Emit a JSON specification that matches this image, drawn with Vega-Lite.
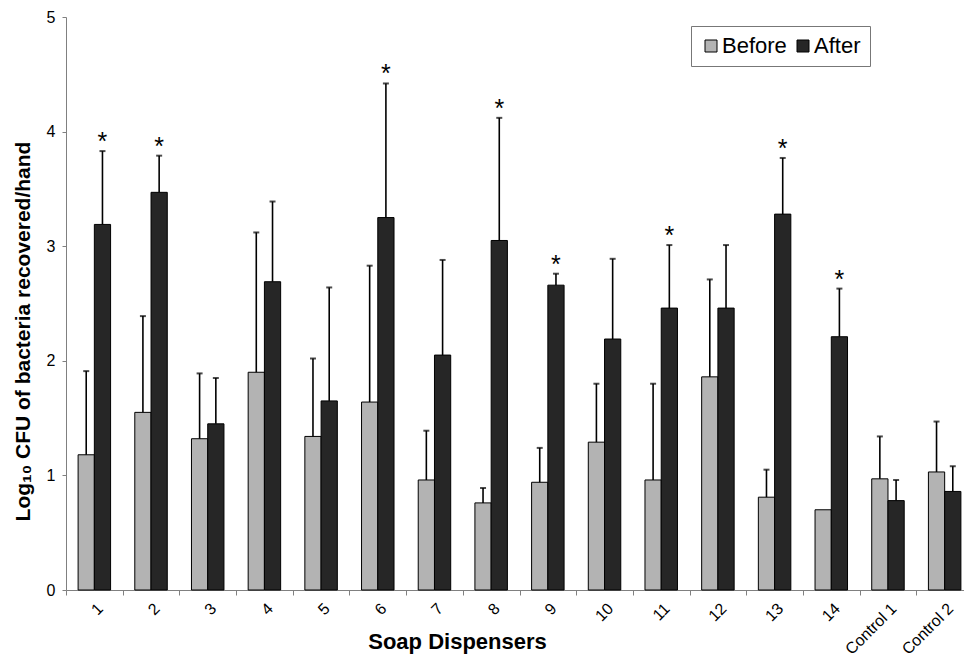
{
  "$schema": "https://vega.github.io/schema/vega-lite/v6.json",
  "width": 898,
  "height": 573,
  "autosize": {"type": "none"},
  "padding": {"left": 66, "top": 17, "right": 0, "bottom": 68},
  "background": "white",
  "config": {"view": {"stroke": null}, "font": "Liberation Sans"},
  "data": {
    "values": [
      {"d": "1", "s": "Before", "v": 1.18, "err": 1.91, "star": ""},
      {"d": "1", "s": "After", "v": 3.19, "err": 3.83, "star": "*"},
      {"d": "2", "s": "Before", "v": 1.55, "err": 2.39, "star": ""},
      {"d": "2", "s": "After", "v": 3.47, "err": 3.79, "star": "*"},
      {"d": "3", "s": "Before", "v": 1.32, "err": 1.89, "star": ""},
      {"d": "3", "s": "After", "v": 1.45, "err": 1.85, "star": ""},
      {"d": "4", "s": "Before", "v": 1.90, "err": 3.12, "star": ""},
      {"d": "4", "s": "After", "v": 2.69, "err": 3.39, "star": ""},
      {"d": "5", "s": "Before", "v": 1.34, "err": 2.02, "star": ""},
      {"d": "5", "s": "After", "v": 1.65, "err": 2.64, "star": ""},
      {"d": "6", "s": "Before", "v": 1.64, "err": 2.83, "star": ""},
      {"d": "6", "s": "After", "v": 3.25, "err": 4.42, "star": "*"},
      {"d": "7", "s": "Before", "v": 0.96, "err": 1.39, "star": ""},
      {"d": "7", "s": "After", "v": 2.05, "err": 2.88, "star": ""},
      {"d": "8", "s": "Before", "v": 0.76, "err": 0.89, "star": ""},
      {"d": "8", "s": "After", "v": 3.05, "err": 4.12, "star": "*"},
      {"d": "9", "s": "Before", "v": 0.94, "err": 1.24, "star": ""},
      {"d": "9", "s": "After", "v": 2.66, "err": 2.76, "star": "*"},
      {"d": "10", "s": "Before", "v": 1.29, "err": 1.80, "star": ""},
      {"d": "10", "s": "After", "v": 2.19, "err": 2.89, "star": ""},
      {"d": "11", "s": "Before", "v": 0.96, "err": 1.80, "star": ""},
      {"d": "11", "s": "After", "v": 2.46, "err": 3.01, "star": "*"},
      {"d": "12", "s": "Before", "v": 1.86, "err": 2.71, "star": ""},
      {"d": "12", "s": "After", "v": 2.46, "err": 3.01, "star": ""},
      {"d": "13", "s": "Before", "v": 0.81, "err": 1.05, "star": ""},
      {"d": "13", "s": "After", "v": 3.28, "err": 3.77, "star": "*"},
      {"d": "14", "s": "Before", "v": 0.70, "err": null, "star": ""},
      {"d": "14", "s": "After", "v": 2.21, "err": 2.63, "star": "*"},
      {"d": "Control 1", "s": "Before", "v": 0.97, "err": 1.34, "star": ""},
      {"d": "Control 1", "s": "After", "v": 0.78, "err": 0.96, "star": ""},
      {"d": "Control 2", "s": "Before", "v": 1.03, "err": 1.47, "star": ""},
      {"d": "Control 2", "s": "After", "v": 0.86, "err": 1.08, "star": ""}
    ]
  },
  "encoding": {
    "x": {
      "field": "d",
      "type": "nominal",
      "sort": null,
      "scale": {"paddingInner": 0, "paddingOuter": 0, "range": [0, 907]},
      "axis": {
        "title": "Soap Dispensers",
        "titleFontSize": 22,
        "titleFontWeight": "bold",
        "titleColor": "black",
        "titleX": 391,
        "titleY": 58,
        "titleBaseline": "alphabetic",
        "titleAlign": "center",
        "labelAngle": -45,
        "labelFontSize": 16,
        "labelColor": "black",
        "labelAlign": "right",
        "labelBaseline": "top",
        "labelPadding": 5,
        "labelOverlap": false,
        "tickSize": 5,
        "tickBand": "extent",
        "tickColor": "#808080",
        "domainColor": "#808080",
        "grid": false
      }
    },
    "xOffset": {
      "field": "s",
      "type": "nominal",
      "sort": ["Before", "After"],
      "scale": {"paddingInner": 0, "paddingOuter": 0.745}
    }
  },
  "layer": [
    {
      "mark": {"type": "bar", "stroke": "black", "strokeWidth": 1},
      "encoding": {
        "y": {
          "field": "v",
          "type": "quantitative",
          "title": "Log₁₀ CFU of bacteria recovered/hand",
          "scale": {"domain": [0, 5], "nice": false},
          "axis": {
            "titleFontSize": 21,
            "titleFontWeight": "bold",
            "titleColor": "black",
            "titleX": -37,
            "titleY": 314,
            "titleBaseline": "alphabetic",
            "titleAlign": "center",
            "values": [0, 1, 2, 3, 4, 5],
            "format": "d",
            "labelFontSize": 16,
            "labelColor": "black",
            "labelPadding": 7,
            "tickSize": 4,
            "tickColor": "#808080",
            "domainColor": "#808080",
            "grid": false
          }
        },
        "color": {
          "field": "s",
          "type": "nominal",
          "sort": ["Before", "After"],
          "scale": {"domain": ["Before", "After"], "range": ["#b3b3b3", "#262626"]},
          "legend": {
            "title": null,
            "orient": "none",
            "legendX": 625,
            "legendY": 9,
            "direction": "horizontal",
            "symbolType": "square",
            "symbolSize": 144,
            "symbolStrokeColor": "black",
            "symbolStrokeWidth": 1,
            "labelFontSize": 22,
            "labelColor": "black",
            "labelOffset": 0,
            "columnPadding": 5,
            "padding": 9,
            "strokeColor": "#777777",
            "fillColor": "white"
          }
        }
      }
    },
    {
      "transform": [{"filter": "datum.err != null"}],
      "mark": {"type": "rule", "color": "black", "strokeWidth": 1.6},
      "encoding": {
        "y": {"field": "v", "type": "quantitative", "title": "Log₁₀ CFU of bacteria recovered/hand"},
        "y2": {"field": "err"}
      }
    },
    {
      "transform": [{"filter": "datum.err != null"}],
      "mark": {"type": "tick", "color": "black", "thickness": 2, "size": 6, "orient": "horizontal"},
      "encoding": {
        "y": {"field": "err", "type": "quantitative", "title": "Log₁₀ CFU of bacteria recovered/hand"}
      }
    },
    {
      "transform": [{"filter": "datum.star == '*'"}],
      "mark": {"type": "text", "fontSize": 25, "dy": -1, "baseline": "alphabetic", "color": "black"},
      "encoding": {
        "y": {"field": "err", "type": "quantitative", "title": "Log₁₀ CFU of bacteria recovered/hand"},
        "text": {"field": "star"}
      }
    }
  ]
}
